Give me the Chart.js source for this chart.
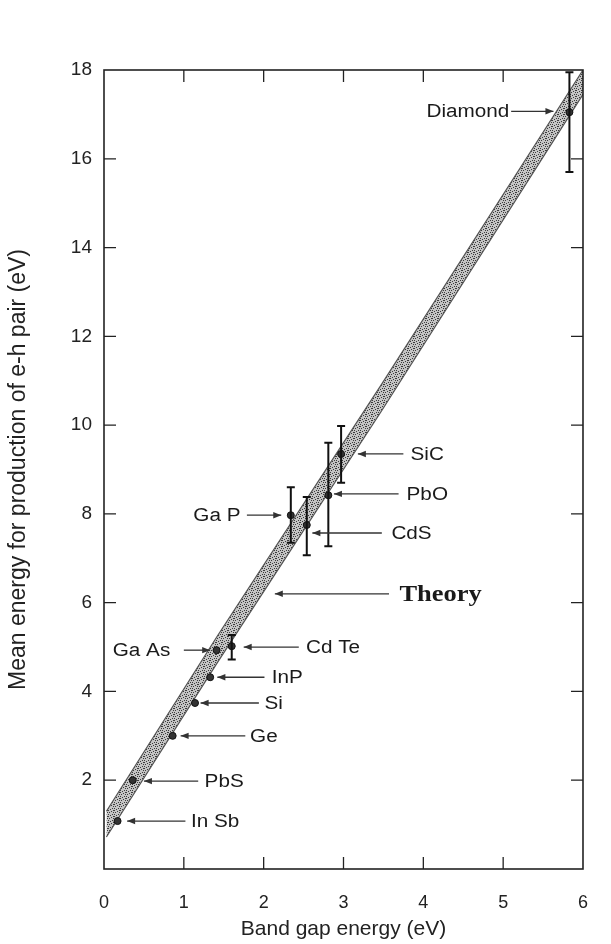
<!DOCTYPE html>
<html>
<head>
<meta charset="utf-8">
<script src="https://cdn.jsdelivr.net/npm/chart.js@4.4.0/dist/chart.umd.min.js"></script>
<style>
  html, body { margin: 0; padding: 0; background: #fff; }
</style>
</head>
<body>
<canvas id="gapChart" width="611" height="944"></canvas>
<script>
// theory band (Klein)
const bandX = [0.03, 1.42, 3.47, 6.0];
const bandLow = [0.72, 4.65, 10.3, 17.45];
const bandHigh = [1.3, 5.25, 10.9, 18.0];

// measured materials
const materials = ['In Sb', 'PbS', 'Ge', 'Si', 'InP', 'Ga As', 'Cd Te', 'Ga P', 'CdS', 'PbO', 'SiC', 'Diamond'];
const gapEnergy = [0.17, 0.36, 0.86, 1.14, 1.33, 1.41, 1.6, 2.34, 2.54, 2.81, 2.97, 5.83];
const pairEnergy = [1.08, 2.0, 3.0, 3.74, 4.32, 4.93, 5.02, 7.97, 7.75, 8.42, 9.35, 17.05];
const errLow = [1.08, 2.0, 3.0, 3.74, 4.32, 4.93, 4.72, 7.35, 7.07, 7.27, 8.7, 15.7];
const errHigh = [1.08, 2.0, 3.0, 3.74, 4.32, 4.93, 5.27, 8.6, 8.38, 9.6, 9.98, 17.95];

const xTicks = [0, 1, 2, 3, 4, 5, 6];
const yTicks = [2, 4, 6, 8, 10, 12, 14, 16, 18];

// label + arrow callouts (data units)
const callouts = [
  { text: 'Diamond', tx: 4.04, ty: 17.07, align: 'left', from: 5.1, to: 5.63 },
  { text: 'SiC', tx: 3.84, ty: 9.35, align: 'left', from: 3.75, to: 3.18 },
  { text: 'PbO', tx: 3.79, ty: 8.45, align: 'left', from: 3.69, to: 2.88 },
  { text: 'CdS', tx: 3.6, ty: 7.57, align: 'left', from: 3.48, to: 2.61 },
  { text: 'Theory', tx: 3.7, ty: 6.2, align: 'left', from: 3.57, to: 2.14, serif: true },
  { text: 'Cd Te', tx: 2.53, ty: 5.0, align: 'left', from: 2.44, to: 1.75 },
  { text: 'InP', tx: 2.1, ty: 4.32, align: 'left', from: 2.01, to: 1.42 },
  { text: 'Si', tx: 2.01, ty: 3.74, align: 'left', from: 1.94, to: 1.21 },
  { text: 'Ge', tx: 1.83, ty: 3.0, align: 'left', from: 1.77, to: 0.96 },
  { text: 'PbS', tx: 1.26, ty: 1.98, align: 'left', from: 1.18, to: 0.5 },
  { text: 'In Sb', tx: 1.09, ty: 1.08, align: 'left', from: 1.02, to: 0.29 },
  { text: 'Ga As', tx: 0.83, ty: 4.93, align: 'right', from: 1.0, to: 1.33 },
  { text: 'Ga P', tx: 1.71, ty: 7.97, align: 'right', from: 1.79, to: 2.22 }
];

// stipple texture for the band
function stipple() {
  const c = document.createElement('canvas');
  c.width = 6; c.height = 6;
  const g = c.getContext('2d');
  g.fillStyle = '#c4c4c4';
  g.fillRect(0, 0, 6, 6);
  g.fillStyle = '#3c3c3c';
  const dots = [[0,0],[3,1],[1,2],[5,2],[4,4],[2,5],[0,4],[5,0]];
  dots.forEach(d => g.fillRect(d[0], d[1], 1, 1));
  return g.createPattern(c, 'repeat');
}

const textFont = '18px "Liberation Sans", Arial, sans-serif';

const framePlugin = {
  id: 'frame',
  afterDraw(chart) {
    const { ctx, chartArea: a, scales } = chart;
    ctx.save();
    ctx.strokeStyle = '#222';
    ctx.lineWidth = 1.6;
    ctx.strokeRect(a.left, a.top, a.right - a.left, a.bottom - a.top);
    ctx.lineWidth = 1.3;
    const len = 12;
    ctx.beginPath();
    xTicks.slice(1, -1).forEach(v => {
      const px = scales.x.getPixelForValue(v);
      ctx.moveTo(px, a.bottom); ctx.lineTo(px, a.bottom - len);
      ctx.moveTo(px, a.top); ctx.lineTo(px, a.top + len);
    });
    yTicks.slice(0, -1).forEach(v => {
      const py = scales.y.getPixelForValue(v);
      ctx.moveTo(a.left, py); ctx.lineTo(a.left + len, py);
      ctx.moveTo(a.right, py); ctx.lineTo(a.right - len, py);
    });
    ctx.stroke();
    ctx.restore();
  }
};

const errorPlugin = {
  id: 'errorBars',
  afterDatasetsDraw(chart) {
    const { ctx, scales } = chart;
    ctx.save();
    ctx.strokeStyle = '#111';
    ctx.lineWidth = 2;
    for (let i = 0; i < materials.length; i++) {
      if (errHigh[i] === errLow[i]) continue;
      const px = scales.x.getPixelForValue(gapEnergy[i]);
      const y1 = scales.y.getPixelForValue(errLow[i]);
      const y2 = scales.y.getPixelForValue(errHigh[i]);
      ctx.beginPath();
      ctx.moveTo(px, y1); ctx.lineTo(px, y2);
      ctx.moveTo(px - 4, y1); ctx.lineTo(px + 4, y1);
      ctx.moveTo(px - 4, y2); ctx.lineTo(px + 4, y2);
      ctx.stroke();
    }
    ctx.restore();
  }
};

const calloutPlugin = {
  id: 'callouts',
  afterDatasetsDraw(chart) {
    const { ctx, scales } = chart;
    ctx.save();
    callouts.forEach(c => {
      const py = scales.y.getPixelForValue(c.ty);
      const x1 = scales.x.getPixelForValue(c.from);
      const x2 = scales.x.getPixelForValue(c.to);
      const dir = x2 > x1 ? 1 : -1;
      ctx.strokeStyle = '#333';
      ctx.fillStyle = '#333';
      ctx.lineWidth = 1.3;
      ctx.beginPath();
      ctx.moveTo(x1, py); ctx.lineTo(x2, py);
      ctx.stroke();
      ctx.beginPath();
      ctx.moveTo(x2, py);
      ctx.lineTo(x2 - dir * 8, py - 3.2);
      ctx.lineTo(x2 - dir * 8, py + 3.2);
      ctx.closePath();
      ctx.fill();

      const tx = scales.x.getPixelForValue(c.tx);
      ctx.fillStyle = '#1a1a1a';
      ctx.textBaseline = 'middle';
      ctx.font = c.serif ? 'bold 23px "Liberation Serif", "DejaVu Serif", serif' : textFont;
      ctx.textAlign = c.align;
      ctx.save();
      ctx.translate(tx, py);
      ctx.scale(1.15, 1);
      ctx.fillText(c.text, 0, 1);
      ctx.restore();
    });
    ctx.restore();
  }
};

const pointData = gapEnergy.map((x, i) => ({ x: x, y: pairEnergy[i] }));

const config = {
  type: 'scatter',
  data: {
    datasets: [
      {
        label: 'Measured',
        data: pointData,
        pointRadius: 3.5,
        pointBackgroundColor: '#333',
        pointBorderColor: '#111',
        pointBorderWidth: 1,
        showLine: false
      },
      {
        label: 'Theory low',
        data: bandX.map((x, i) => ({ x: x, y: bandLow[i] })),
        showLine: true,
        borderColor: '#555',
        borderWidth: 1.2,
        pointRadius: 0,
        fill: false
      },
      {
        label: 'Theory high',
        data: bandX.map((x, i) => ({ x: x, y: bandHigh[i] })),
        showLine: true,
        borderColor: '#555',
        borderWidth: 1.2,
        pointRadius: 0,
        backgroundColor: stipple(),
        fill: '-1'
      }
    ]
  },
  options: {
    responsive: false,
    animation: false,
    devicePixelRatio: 1,
    layout: { padding: { left: 0, right: 18, top: 70, bottom: 0 } },
    plugins: {
      legend: { display: false },
      tooltip: { enabled: false }
    },
    scales: {
      x: {
        type: 'linear',
        min: 0,
        max: 6,
        grid: { display: false, drawTicks: false },
        border: { display: false },
        ticks: {
          stepSize: 1,
          padding: 23,
          color: '#222',
          font: { family: '"Liberation Sans", Arial, sans-serif', size: 18 }
        },
        title: {
          display: true,
          text: 'Band gap energy (eV)',
          color: '#222',
          font: { family: '"Liberation Sans", Arial, sans-serif', size: 21 },
          padding: { top: 0, bottom: 2 }
        },
        afterFit: s => { s.height = 75; }
      },
      y: {
        type: 'linear',
        min: 0,
        max: 18,
        grid: { display: false, drawTicks: false },
        border: { display: false },
        ticks: {
          stepSize: 2,
          padding: 12,
          color: '#222',
          font: { family: '"Liberation Sans", Arial, sans-serif', size: 19 },
          callback: v => (v === 0 ? '' : v)
        },
        title: {
          display: true,
          text: 'Mean energy for production of e-h pair (eV)',
          color: '#222',
          font: { family: '"Liberation Sans", Arial, sans-serif', size: 23 },
          padding: { top: 5, bottom: 0 }
        },
        afterFit: s => { s.width = 104; }
      }
    }
  },
  plugins: [framePlugin, errorPlugin, calloutPlugin]
};

var gapChart = new Chart(document.getElementById('gapChart'), config);
</script>
</body>
</html>
